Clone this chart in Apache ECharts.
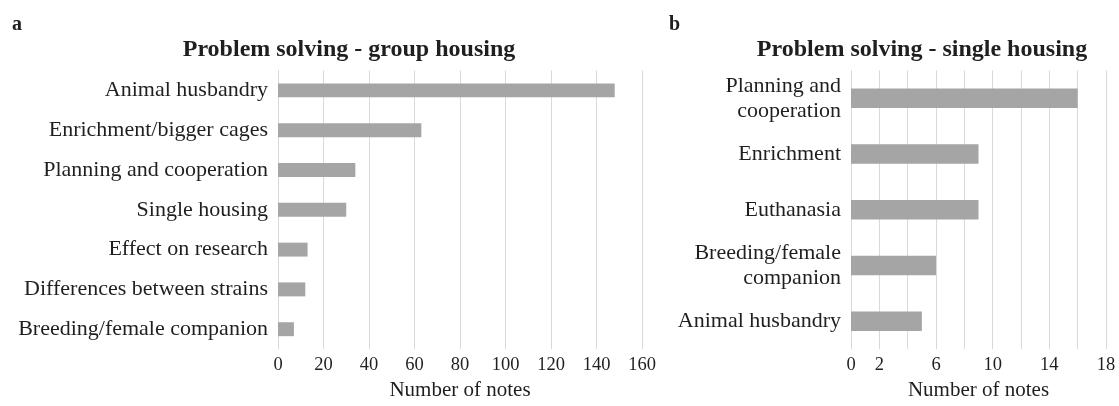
<!DOCTYPE html>
<html><head><meta charset="utf-8">
<script src="https://cdn.jsdelivr.net/npm/echarts@6/dist/echarts.min.js"></script>
<style>html,body{margin:0;padding:0;background:#fff}#c{width:1119px;height:406px}</style>
</head><body><div id="c"></div>
<script>
const groupCategories = ['Animal husbandry','Enrichment/bigger cages','Planning and cooperation','Single housing','Effect on research','Differences between strains','Breeding/female companion'];
const groupValues = [148, 63, 34, 30, 13, 12, 7];
const singleCategories = ['Planning and\ncooperation','Enrichment','Euthanasia','Breeding/female\ncompanion','Animal husbandry'];
const singleValues = [16, 9, 9, 6, 5];
const singleTickLabels = [0, 2, 6, 10, 14, 18];
const titleGroup = 'Problem solving - group housing';
const titleSingle = 'Problem solving - single housing';
const axisName = 'Number of notes';

const FONT = '"Liberation Serif", "Times New Roman", serif';
const TXT = '#1f1f1f';
const GRID = '#d9d9d9';
const BAR = '#a5a5a5';

const chart = echarts.init(document.getElementById('c'));
function xAx(idx, max, interval, fmt) {
  return {
    type: 'value', gridIndex: idx, min: 0, max: max, interval: interval,
    axisLine: {show: false}, axisTick: {show: false},
    splitLine: {lineStyle: {color: GRID, width: 1}},
    axisLabel: {fontFamily: FONT, fontSize: 18.5, color: TXT, margin: 7, formatter: fmt},
    name: axisName, nameLocation: 'middle', nameGap: 29,
    nameTextStyle: {fontFamily: FONT, fontSize: 21, color: TXT}
  };
}
function yAx(idx, data) {
  return {
    type: 'category', gridIndex: idx, data: data, inverse: true,
    axisTick: {show: false},
    axisLine: {lineStyle: {color: GRID, width: 1}},
    axisLabel: {fontFamily: FONT, fontSize: 22, color: TXT, margin: 10, lineHeight: 25}
  };
}
chart.setOption({
  backgroundColor: '#ffffff',
  animation: false,
  grid: [
    {left: 278, right: 1119 - 642, top: 70.5, bottom: 406 - 357},
    {left: 851, right: 1119 - 1106, top: 70.5, bottom: 406 - 357}
  ],
  xAxis: [
    xAx(0, 160, 20),
    xAx(1, 18, 2, v => singleTickLabels.indexOf(v) >= 0 ? String(v) : '')
  ],
  yAxis: [yAx(0, groupCategories), yAx(1, singleCategories)],
  series: [
    {type: 'bar', xAxisIndex: 0, yAxisIndex: 0, data: groupValues, barCategoryGap: '65%', itemStyle: {color: BAR}},
    {type: 'bar', xAxisIndex: 1, yAxisIndex: 1, data: singleValues, barCategoryGap: '65%', itemStyle: {color: BAR}}
  ],
  graphic: [
    {type: 'text', left: 12, top: 15, style: {text: 'a', font: 'bold 20px ' + FONT, fill: TXT}},
    {type: 'text', left: 669, top: 15, style: {text: 'b', font: 'bold 20px ' + FONT, fill: TXT}},
    {type: 'text', x: 349, y: 50, style: {text: titleGroup, font: 'bold 24px ' + FONT, fill: TXT, align: 'center', verticalAlign: 'middle'}},
    {type: 'text', x: 922, y: 50, style: {text: titleSingle, font: 'bold 24px ' + FONT, fill: TXT, align: 'center', verticalAlign: 'middle'}}
  ]
});
</script></body></html>
